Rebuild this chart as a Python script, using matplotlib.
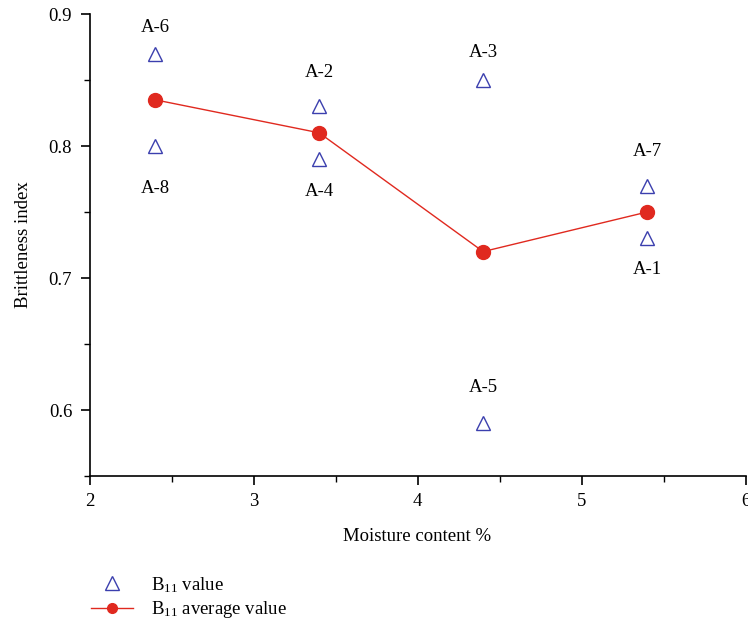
import matplotlib
matplotlib.use("Agg")
import matplotlib.pyplot as plt
from matplotlib.ticker import MultipleLocator
from matplotlib.lines import Line2D

plt.rcParams['font.family'] = ['Liberation Serif', 'DejaVu Serif']
plt.rcParams['mathtext.fontset'] = 'custom'
plt.rcParams['mathtext.rm'] = 'Liberation Serif'
plt.rcParams['mathtext.it'] = 'Liberation Serif:italic'

# Data
moisture = [2.4, 3.4, 4.4, 5.4]
average = [0.835, 0.81, 0.72, 0.75]
sample_names = ['A-6', 'A-8', 'A-2', 'A-4', 'A-3', 'A-5', 'A-7', 'A-1']
sample_x = [2.4, 2.4, 3.4, 3.4, 4.4, 4.4, 5.4, 5.4]
sample_y = [0.87, 0.80, 0.83, 0.79, 0.85, 0.59, 0.77, 0.73]
# label offsets in pixels (layout only)
label_offset_px = [26, -42, 34, -32, 28, 36, 34, -31]

fig = plt.figure(figsize=(7.48, 6.25), dpi=100)
ax = fig.add_axes([0.1197, 0.2384, 0.877, 0.7392])

blue = '#3b3fae'
red = '#e0291f'
fs = 13.5

ax.plot(moisture, average, color=red, lw=1.0, marker='o', ms=10,
        markerfacecolor=red, markeredgecolor=red, zorder=3)
ax.plot(sample_x, sample_y, ls='none', marker='^', ms=9.5,
        markerfacecolor='none', markeredgecolor=blue, mew=1.0, zorder=4)

for name, x, y, off in zip(sample_names, sample_x, sample_y, label_offset_px):
    ax.annotate(name, (x, y), xytext=(0, off * 0.72), textcoords='offset points',
                ha='center', va='center', fontsize=fs)

ax.set_xlim(2, 6)
ax.set_ylim(0.55, 0.9)
ax.xaxis.set_major_locator(MultipleLocator(1))
ax.xaxis.set_minor_locator(MultipleLocator(0.5))
ax.yaxis.set_minor_locator(MultipleLocator(0.05))
ax.set_yticks([0.6, 0.7, 0.8, 0.9])
ax.tick_params(which='major', direction='out', length=6.5, width=1.2, labelsize=fs, pad=6)
ax.tick_params(which='minor', direction='out', length=4, width=1.0)
for s in ['top', 'right']:
    ax.spines[s].set_visible(False)
for s in ['left', 'bottom']:
    ax.spines[s].set_linewidth(1.2)

ax.set_xlabel('Moisture content %', fontsize=fs, labelpad=13)
ax.set_ylabel('Brittleness index', fontsize=fs, labelpad=12)

handles = [
    Line2D([], [], ls='none', marker='^', ms=9.5, markerfacecolor='none',
           markeredgecolor=blue, mew=1.0),
    Line2D([], [], color=red, lw=1.0, marker='o', ms=7,
           markerfacecolor=red, markeredgecolor=red),
]
fig.legend(handles, [r'B$_{11}$ value', r'B$_{11}$ average value'],
           loc='upper left', bbox_to_anchor=(0.112, 0.092), frameon=False,
           fontsize=fs, handlelength=2.2, handletextpad=1.0, labelspacing=0.25,
           borderaxespad=0)

fig.savefig('out.png', dpi=100)
